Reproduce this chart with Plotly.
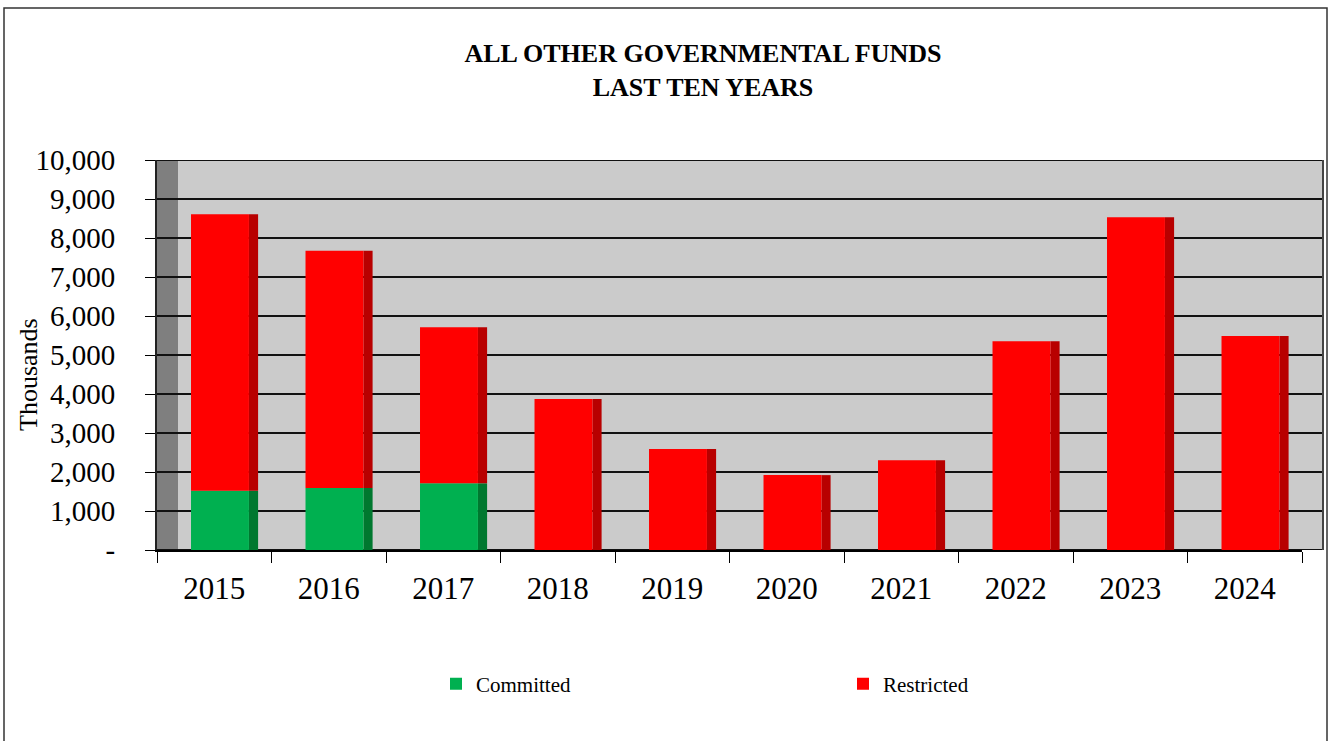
import plotly.graph_objects as go

# ---- data (thousands) ----
years = ["2015", "2016", "2017", "2018", "2019", "2020", "2021", "2022", "2023", "2024"]
committed = [1520, 1590, 1710, 0, 0, 0, 0, 0, 0, 0]
restricted = [7090, 6080, 4000, 3870, 2590, 1920, 2300, 5350, 8530, 5490]
y_ticks = [0, 1000, 2000, 3000, 4000, 5000, 6000, 7000, 8000, 9000, 10000]
y_ticktext = ["-", "1,000", "2,000", "3,000", "4,000", "5,000", "6,000", "7,000", "8,000", "9,000", "10,000"]

# ---- styling ----
FONT = "Liberation Serif, Times New Roman, serif"
GREEN, GREEN_SIDE = "#00b050", "#00782f"
RED, RED_SIDE = "#ff0000", "#b80000"
WALL, SIDE_WALL = "#cbcbcb", "#7f7f7f"

W, H = 1330, 741
L, R, T, B = 157, 28, 160, 191
PW, PH = W - L - R, H - T - B
DEPTH = 21 / PW  # shift of the back wall in paper units


def px_x(px):
    return (px - L) / PW


def px_y(py):
    return (H - B - py) / PH


FRONT_OFF, FRONT_W = -0.203, 0.506
SIDE_OFF, SIDE_W = FRONT_OFF + FRONT_W, 0.08

base_restricted = [c for c in committed]

fig = go.Figure()
# side faces
fig.add_bar(x=years, y=committed, base=[0] * len(years), offset=SIDE_OFF, width=SIDE_W,
            marker=dict(color=GREEN_SIDE, line=dict(width=0)), showlegend=False, hoverinfo="skip")
fig.add_bar(x=years, y=restricted, base=base_restricted, offset=SIDE_OFF, width=SIDE_W,
            marker=dict(color=RED_SIDE, line=dict(width=0)), showlegend=False, hoverinfo="skip")
# front faces
fig.add_bar(x=years, y=committed, base=[0] * len(years), offset=FRONT_OFF, width=FRONT_W,
            name="Committed", marker=dict(color=GREEN, line=dict(width=0)))
fig.add_bar(x=years, y=restricted, base=base_restricted, offset=FRONT_OFF, width=FRONT_W,
            name="Restricted", marker=dict(color=RED, line=dict(width=0)))

shapes = []
# back wall
shapes.append(dict(type="rect", xref="paper", yref="y", x0=DEPTH, x1=1 + DEPTH, y0=0, y1=10000,
                   fillcolor=WALL, line=dict(width=0), layer="below"))
# left side wall
shapes.append(dict(type="rect", xref="paper", yref="y", x0=0, x1=DEPTH, y0=0, y1=10000,
                   fillcolor=SIDE_WALL, line=dict(width=0), layer="below"))
# gridlines
for v in y_ticks:
    shapes.append(dict(type="line", xref="paper", yref="y", x0=0, x1=1 + DEPTH, y0=v, y1=v,
                       line=dict(color="#111111", width=2), layer="below"))
# right edge of wall
shapes.append(dict(type="line", xref="paper", yref="y", x0=1 + DEPTH, x1=1 + DEPTH, y0=0, y1=10000,
                   line=dict(color="#444444", width=2), layer="below"))
# outer frame
shapes.append(dict(type="rect", xref="paper", yref="paper", x0=px_x(4), x1=px_x(1327),
                   y0=px_y(760), y1=px_y(8), line=dict(color="#333333", width=1.5),
                   fillcolor="rgba(0,0,0,0)", layer="below"))

fig.update_layout(
    width=W, height=H,
    margin=dict(l=L, r=R, t=T, b=B, pad=0),
    paper_bgcolor="white", plot_bgcolor="white",
    barmode="overlay",
    font=dict(family=FONT, color="black"),
    title=dict(text="<b>ALL OTHER GOVERNMENTAL FUNDS<br>LAST TEN YEARS</b>",
               x=703 / W, xanchor="center", xref="container",
               y=1 - 62 / H, yanchor="top", yref="container",
               font=dict(family=FONT, size=26, color="black")),
    xaxis=dict(type="category", range=[-0.5, 9.5], tickson="boundaries", ticks="outside",
               ticklen=11, tickcolor="black", tickwidth=1, showline=True, linecolor="black",
               linewidth=2, showgrid=False, tickfont=dict(size=31, family=FONT),
               ticklabelstandoff=10),
    yaxis=dict(range=[0, 10000], tickvals=y_ticks, ticktext=y_ticktext, ticks="outside",
               ticklen=10, tickcolor="black", tickwidth=1, showline=True, linecolor="#222222",
               linewidth=2, showgrid=False, zeroline=False, tickfont=dict(size=29, family=FONT),
               ticklabelstandoff=24),
    legend=dict(orientation="h", x=px_x(436), xanchor="left", y=px_y(684), yanchor="middle",
                entrywidth=362, entrywidthmode="pixels", font=dict(size=21, family=FONT),
                bgcolor="rgba(0,0,0,0)", traceorder="normal"),
    annotations=[dict(text="Thousands", xref="paper", yref="paper", x=px_x(28), y=px_y(375),
                      xanchor="center", yanchor="middle", textangle=-90, showarrow=False,
                      font=dict(size=26, family=FONT, color="black"))],
    shapes=shapes,
)

fig.write_html("out.html")
